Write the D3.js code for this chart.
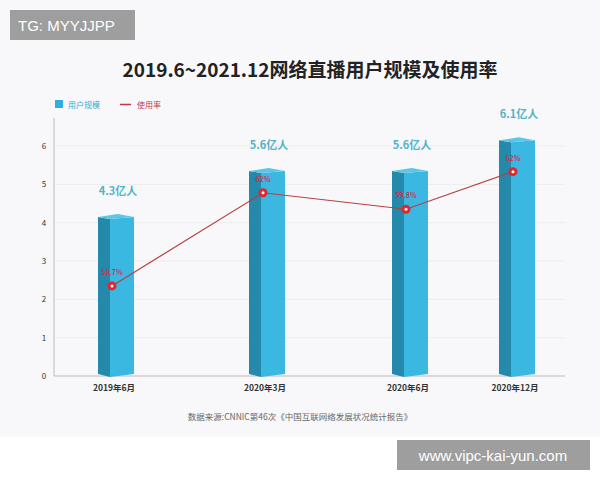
<!DOCTYPE html><html><head><meta charset="utf-8">
<script src="https://cdn.jsdelivr.net/npm/d3@7"></script>
<style>body{margin:0;background:#fff;font-family:"Noto Sans CJK SC",sans-serif}</style></head><body>
<svg id="c" width="600" height="480"></svg>
<script>
const categories=["2019年6月","2020年3月","2020年6月","2020年12月"];
const userScale=[4.2,5.4,5.4,6.2];
const userLabels=["4.3亿人","5.6亿人","5.6亿人","6.1亿人"];
const rateLevel=[2.35,4.78,4.35,5.33];
const rateLabels=["50.7%","62%","59.8%","62%"];
const yTicks=[0,1,2,3,4,5,6];

const svg=d3.select("#c");
svg.append("rect").attr("x",0).attr("y",0).attr("width",600).attr("height",437).attr("fill","#f8f8fa");
svg.append("text").attr("x",310).attr("y",77).attr("text-anchor","middle").attr("font-size",19).attr("font-weight","bold").attr("fill","#222").text("2019.6~2021.12网络直播用户规模及使用率");

const x=d3.scaleOrdinal().domain(categories).range([116,267,410,517]);
const y=d3.scaleLinear().domain([0,6]).range([376,146]);
const g=svg.append("g");
g.selectAll(".grid").data(yTicks.slice(1)).join("line").attr("x1",54).attr("x2",565).attr("y1",d=>y(d)).attr("y2",d=>y(d)).attr("stroke","#ececee");
g.append("line").attr("x1",54).attr("x2",54).attr("y1",118).attr("y2",376).attr("stroke","#bbb");
g.append("line").attr("x1",54).attr("x2",565).attr("y1",376).attr("y2",376).attr("stroke","#bbb");
g.selectAll(".yt").data(yTicks).join("text").attr("x",44).attr("y",d=>y(d)+3).attr("text-anchor","middle").attr("font-size",8).attr("fill","#333").text(d=>d);
g.selectAll(".xt").data(categories).join("text").attr("x",d=>x(d)-2).attr("y",391).attr("text-anchor","middle").attr("font-size",8.5).attr("font-weight","bold").attr("fill","#333").text(d=>d);

const bw=36, side=12;
categories.forEach((c,i)=>{
  const cx=x(c), top=y(userScale[i]), l=cx-bw/2;
  g.append("path").attr("d",`M${l},${top+2}L${l+side},${top+4}L${l+side},${376+1}L${l},${374}Z`).attr("fill","#2589ab");
  g.append("path").attr("d",`M${l+side},${top+4}L${l+bw},${top+2}L${l+bw},${374}L${l+side},${377}Z`).attr("fill","#3ab8e2");
  g.append("path").attr("d",`M${l},${top+2}L${l+bw*0.55},${top-1}L${l+bw},${top+2}L${l+side},${top+4}Z`).attr("fill","#5cc6e6");
  g.append("text").attr("x",cx+2).attr("y",top-20).attr("text-anchor","middle").attr("font-size",11).attr("font-weight","bold").attr("fill","#4fb3c9").text(userLabels[i]);
});
const line=d3.line().x((d,i)=>x(categories[i])-4).y(d=>y(d));
g.append("path").attr("d",line(rateLevel)).attr("fill","none").attr("stroke","#b5413f").attr("stroke-width",1.2);
rateLevel.forEach((v,i)=>{
  const cx=x(categories[i])-4, cy=y(v);
  g.append("circle").attr("cx",cx).attr("cy",cy).attr("r",4.5).attr("fill","#e0262f");
  g.append("circle").attr("cx",cx).attr("cy",cy).attr("r",1.5).attr("fill","#fff");
  g.append("text").attr("x",cx).attr("y",cy-11).attr("text-anchor","middle").attr("font-size",7).attr("font-weight","bold").attr("fill","#c0394b").text(rateLabels[i]);
});
// legend
svg.append("rect").attr("x",55).attr("y",100).attr("width",8).attr("height",8).attr("fill","#2fb0dc");
svg.append("text").attr("x",68).attr("y",108).attr("font-size",8).attr("fill","#3aa8cf").text("用户规模");
svg.append("line").attr("x1",120).attr("x2",131).attr("y1",104.5).attr("y2",104.5).attr("stroke","#c0394b").attr("stroke-width",1.5);
svg.append("text").attr("x",137).attr("y",108).attr("font-size",8).attr("fill","#c0394b").text("使用率");
svg.append("text").attr("x",300).attr("y",420).attr("text-anchor","middle").attr("font-size",8.5).attr("fill","#666").text("数据来源:CNNIC第46次《中国互联网络发展状况统计报告》");
// watermarks
svg.append("rect").attr("x",10).attr("y",10).attr("width",125).attr("height",30).attr("fill","#9e9e9e");
svg.append("text").attr("x",18).attr("y",31).attr("font-size",15).attr("fill","#fff").attr("font-family","Liberation Sans").text("TG: MYYJJPP");
svg.append("rect").attr("x",397).attr("y",440).attr("width",193).attr("height",30).attr("fill","#9e9e9e");
svg.append("text").attr("x",493).attr("y",461).attr("text-anchor","middle").attr("font-size",15).attr("fill","#fff").attr("font-family","Liberation Sans").text("www.vipc-kai-yun.com");
</script></body></html>
